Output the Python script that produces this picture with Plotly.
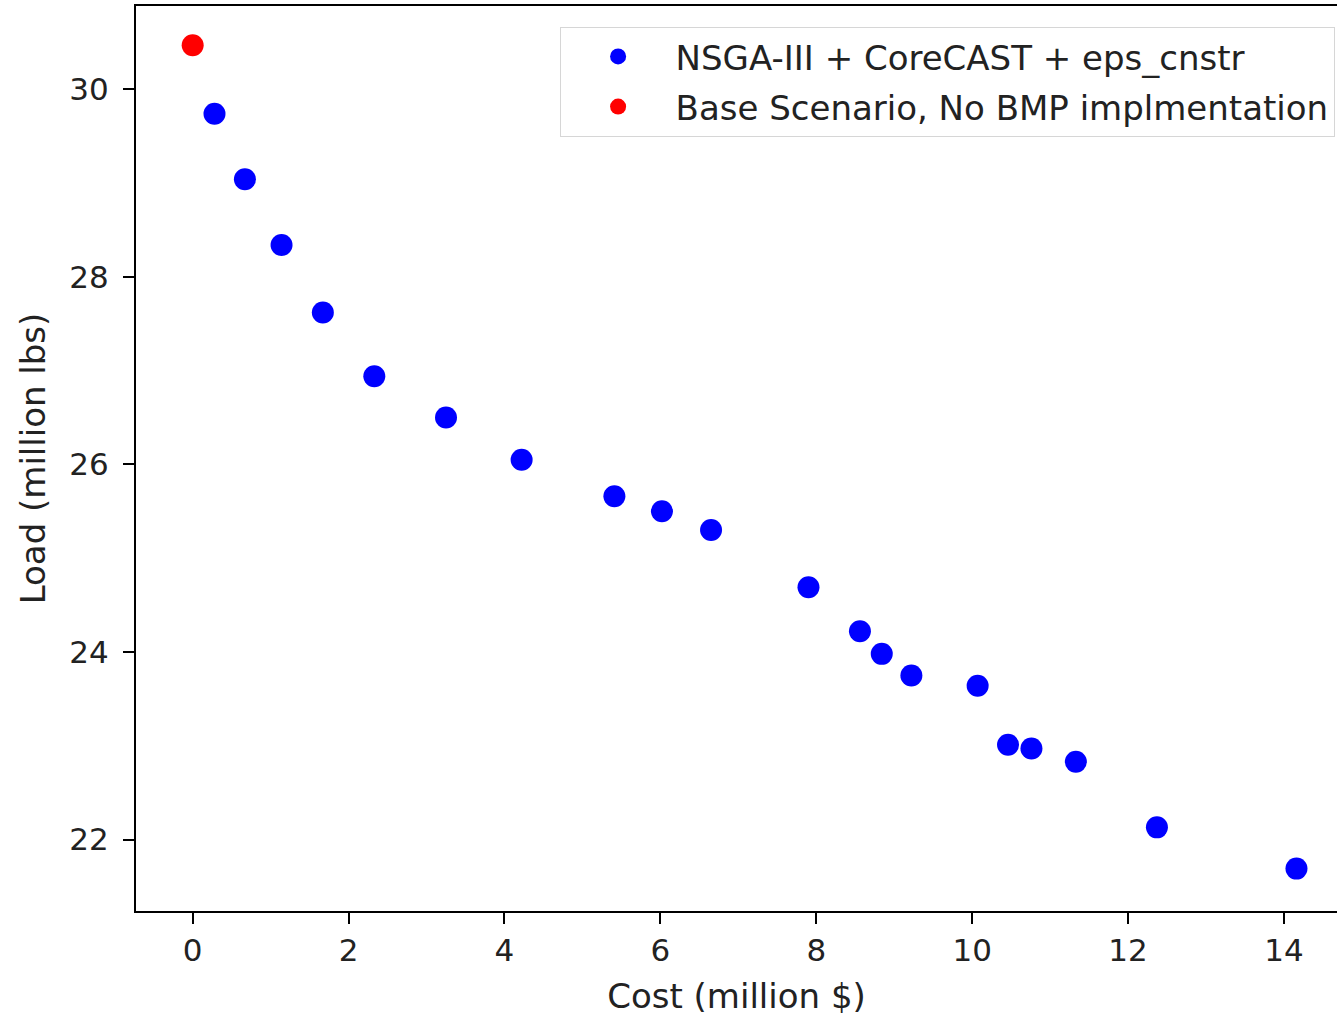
import plotly.graph_objects as go

# Data
cost_pareto = [0.28, 0.67, 1.14, 1.67, 2.33, 3.25, 4.22, 5.41, 6.02, 6.65,
               7.90, 8.56, 8.84, 9.22, 10.07, 10.46, 10.76, 11.33, 12.37, 14.16]
load_pareto = [29.74, 29.04, 28.34, 27.62, 26.94, 26.50, 26.05, 25.66, 25.50, 25.30,
               24.69, 24.22, 23.98, 23.75, 23.64, 23.01, 22.97, 22.83, 22.13, 21.69]
cost_base = [0.0]
load_base = [30.47]

name_pareto = "NSGA-III + CoreCAST + eps_cnstr"
name_base = "Base Scenario, No BMP implmentation"

x_ticks = [0, 2, 4, 6, 8, 10, 12, 14]
y_ticks = [22, 24, 26, 28, 30]

FONT = "DejaVu Sans"
fs_tick = 31
fs_label = 34
TXT = "#222222"

fig = go.Figure()
fig.add_trace(go.Scatter(x=cost_pareto, y=load_pareto, mode="markers", name=name_pareto,
                         legendgroup="a",
                         marker=dict(color="#0000ff", size=22, line=dict(width=0))))
fig.add_trace(go.Scatter(x=cost_base, y=load_base, mode="markers", name=name_base,
                         legendgroup="b",
                         marker=dict(color="#ff0000", size=22, line=dict(width=0))))

fig.update_layout(
    width=1337, height=1017,
    margin=dict(l=136, r=0, t=6, b=106),
    paper_bgcolor="white", plot_bgcolor="white",
    font=dict(family=FONT, size=fs_tick, color=TXT),
    showlegend=True,
    legend=dict(x=0.998, y=0.977, xanchor="right", yanchor="top",
                bgcolor="rgba(255,255,255,0.8)", bordercolor="#d6d6d6", borderwidth=1,
                font=dict(family=FONT, size=fs_label, color=TXT),
                itemsizing="trace", itemwidth=105, tracegroupgap=3),
    xaxis=dict(range=[-0.727, 14.68], tickvals=x_ticks, ticktext=[str(v) for v in x_ticks],
               showgrid=False, zeroline=False, showline=True, linecolor="black", linewidth=2,
               mirror=True, ticks="outside", ticklen=11, tickwidth=2, tickcolor="black",
               tickfont=dict(family=FONT, size=fs_tick, color=TXT),
               title=dict(text="Cost (million $)", font=dict(family=FONT, size=fs_label, color=TXT),
                          standoff=17)),
    yaxis=dict(range=[21.238, 30.888], tickvals=y_ticks, ticktext=[str(v) for v in y_ticks],
               showgrid=False, zeroline=False, showline=True, linecolor="black", linewidth=2,
               mirror=False, ticks="outside", ticklen=11, tickwidth=2, tickcolor="black",
               ticklabelstandoff=8,
               tickfont=dict(family=FONT, size=fs_tick, color=TXT),
               title=dict(text="Load (million lbs)", font=dict(family=FONT, size=fs_label, color=TXT),
                          standoff=13)),
)

fig.write_html("out.html")
